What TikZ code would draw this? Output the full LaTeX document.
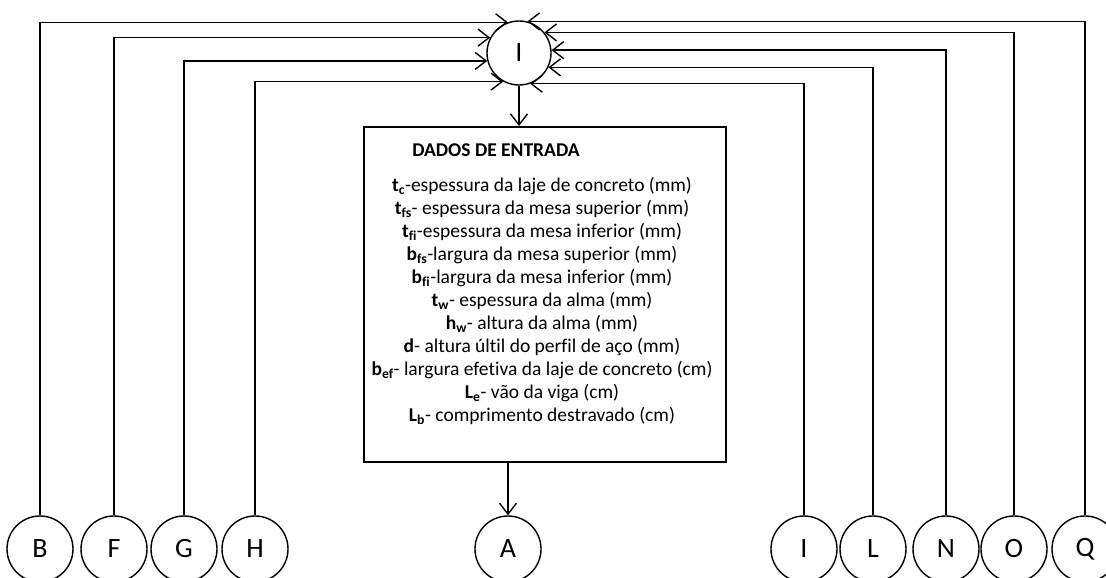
\documentclass[tikz,border=0pt]{standalone}
\usepackage{fontspec}
\setmainfont[Ligatures=NoCommon]{Carlito}
\usetikzlibrary{arrows.meta}
\usetikzlibrary{positioning}
\tikzset{conn/.style={circle, draw, line width=1.4pt, minimum size=66pt, inner sep=0pt, font=\fontsize{28}{30}\selectfont},
feed/.style={line width=1.4pt, -{Straight Barb[length=11pt, width=17pt, line width=1.4pt]}},
databox/.style={draw, line width=1.8pt, minimum width=362pt, minimum height=335pt, anchor=north west}}

\begin{document}
\begin{tikzpicture}[x=1pt, y=-1pt]
	\useasboundingbox (0,0) rectangle (1106,578);
	% connectors along the bottom
	\node[conn] (B) at (40,549) {B};
	\node[conn] (F) at (114,549) {F};
	\node[conn] (G) at (184,549) {G};
	\node[conn] (H) at (255,549) {H};
	\node[conn] (A) at (508,549) {A};
	\node[conn] (I) at (804,549) {I};
	\node[conn] (L) at (873,549) {L};
	\node[conn] (N) at (946,549) {N};
	\node[conn] (O) at (1014,549) {O};
	\node[conn] (Q) at (1085,549) {Q};
	% connector on top
	\node[conn, minimum size=64pt] (top) at (519,53) {I};
	% input data
	\node[databox] (box) at (363,126) {};
	\node[font=\bfseries\fontsize{19.5}{22}\selectfont] (title) at (496,150) {DADOS DE ENTRADA};
	\node[align=center, font=\fontsize{19.5}{23}\selectfont, anchor=north] (txt) at (542,174) {%
		\textbf{t\textsubscript{c}}-espessura da laje de concreto (mm)\\
		\textbf{t\textsubscript{fs}}- espessura da mesa superior (mm)\\
		\textbf{t\textsubscript{fi}}-espessura da mesa inferior (mm)\\
		\textbf{b\textsubscript{fs}}-largura da mesa superior (mm)\\
		\textbf{b\textsubscript{fi}}-largura da mesa inferior (mm)\\
		\textbf{t\textsubscript{w}}- espessura da alma (mm)\\
		\textbf{h\textsubscript{w}}- altura da alma (mm)\\
		\textbf{d}- altura últil do perfil de aço (mm)\\
		\textbf{b\textsubscript{ef}}- largura efetiva da laje de concreto (cm)\\
		\textbf{L\textsubscript{e}}- vão da viga (cm)\\
		\textbf{L\textsubscript{b}}- comprimento destravado (cm)};
	% lines into the top connector
	\draw[feed] (B.north) |- (top.110);
	\draw[feed] (F.north) |- (top.152);
	\draw[feed] (G.north) |- (top.194);
	\draw[feed] (H.north) |- (top.241);
	\draw[feed] (I.north) |- (top.290);
	\draw[feed] (L.north) |- (top.334);
	\draw[feed] (N.north) |- (top.5);
	\draw[feed] (O.north) |- (top.39);
	\draw[feed] (Q.north) |- (top.75);
	% flow through the box
	\draw[feed] (top.south) -- (top.south |- box.north);
	\draw[feed] (A.north |- box.south) -- (A.north);
\end{tikzpicture}
\end{document}
